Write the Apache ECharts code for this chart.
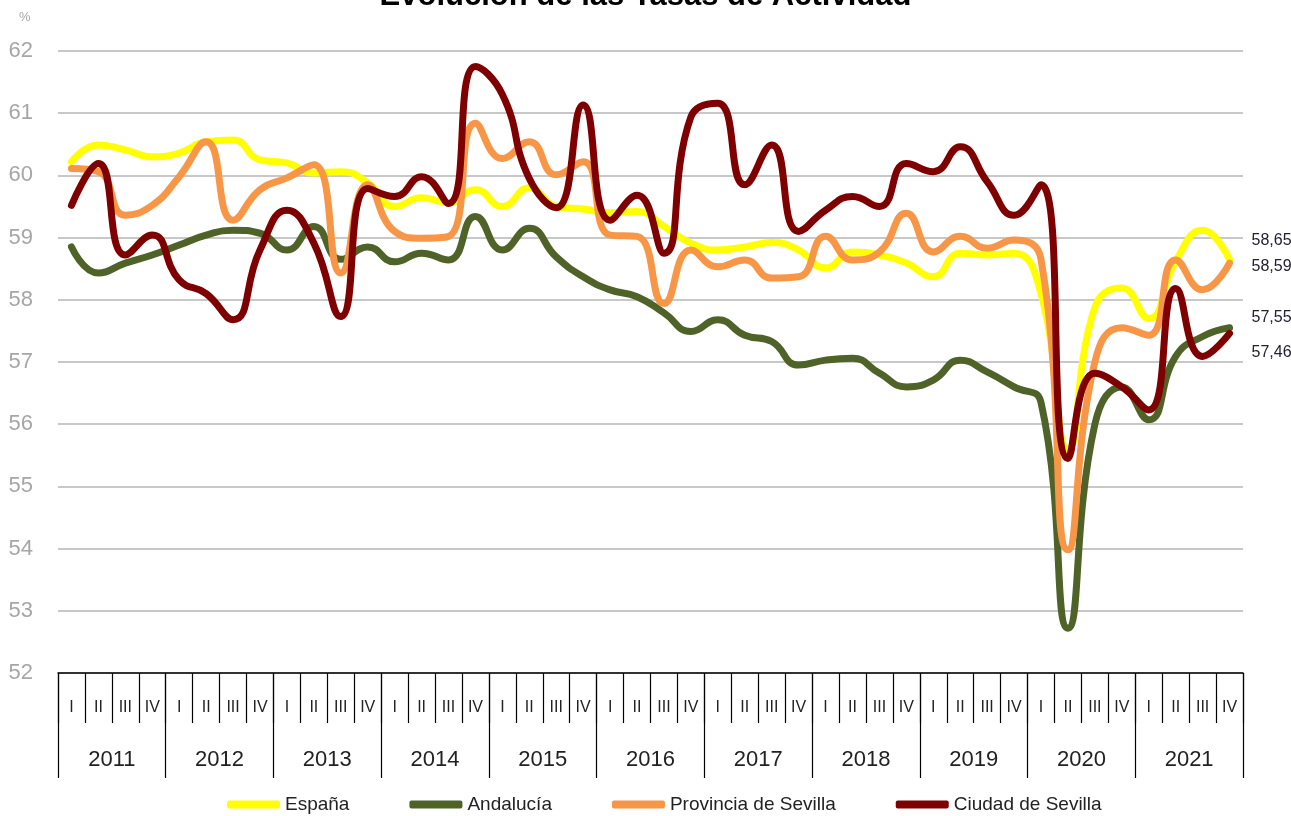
<!DOCTYPE html>
<html>
<head>
<meta charset="utf-8">
<script src="https://cdn.jsdelivr.net/npm/echarts@6/dist/echarts.min.js"></script>
<style>
  html, body { margin: 0; padding: 0; background: #fff; }
  #chart { width: 1291px; height: 816px; }
</style>
</head>
<body>
<div id="chart"></div>
<script>
// 年份与季度
const years = ['2011', '2012', '2013', '2014', '2015', '2016', '2017', '2018', '2019', '2020', '2021'];
const quarterNames = ['I', 'II', 'III', 'IV'];

// 各系列数据（%）
const espana = [60.22, 60.49, 60.41, 60.30, 60.36, 60.54, 60.57, 60.25, 60.20, 60.04, 60.06, 59.88,
    59.50, 59.64, 59.56, 59.77, 59.50, 59.80, 59.50, 59.46, 59.40, 59.42, 59.18, 58.91,
    58.80, 58.85, 58.92, 58.80, 58.51, 58.77, 58.72, 58.59, 58.37, 58.75, 58.72, 58.75,
    58.10, 55.60, 57.88, 58.19, 57.70, 58.62, 59.12, 58.65];
const andalucia = [58.85, 58.43, 58.59, 58.72, 58.88, 59.04, 59.12, 59.07, 58.80, 59.18, 58.65, 58.85,
    58.61, 58.75, 58.64, 59.34, 58.80, 59.15, 58.69, 58.37, 58.16, 58.05, 57.79, 57.49,
    57.68, 57.43, 57.33, 56.95, 57.03, 57.06, 56.82, 56.60, 56.71, 57.03, 56.84, 56.60,
    56.35, 52.72, 56.00, 56.60, 56.07, 57.09, 57.41, 57.55];
const provincia = [60.11, 60.06, 59.36, 59.52, 59.98, 60.54, 59.28, 59.77, 59.96, 60.17, 58.43, 59.85,
    59.10, 58.99, 59.02, 60.84, 60.27, 60.54, 60.01, 60.22, 59.04, 59.02, 57.94, 58.80,
    58.53, 58.64, 58.35, 58.37, 59.02, 58.64, 58.77, 59.39, 58.77, 59.02, 58.83, 58.96,
    58.65, 53.98, 57.00, 57.55, 57.43, 58.64, 58.16, 58.59];
const ciudad = [59.52, 60.19, 58.72, 59.04, 58.32, 58.10, 57.68, 58.80, 59.44, 58.91, 57.73, 59.79,
    59.66, 59.98, 59.55, 61.75, 61.30, 59.95, 59.48, 61.13, 59.28, 59.68, 58.75, 60.94,
    61.16, 59.85, 60.49, 59.10, 59.44, 59.66, 59.50, 60.19, 60.06, 60.46, 59.90, 59.36,
    59.85, 55.45, 56.82, 56.60, 56.23, 58.18, 57.09, 57.46];

// 季度标签（每年 I-IV）
const quarters = [];
years.forEach(() => quarterNames.forEach(q => quarters.push(q)));

const font = 'Liberation Sans';
var myChart = echarts.init(document.getElementById('chart'));

function lineSeries(name, data, color, offsetY) {
    return {
        name: name,
        type: 'line',
        data: data,
        smooth: 0.5,
        symbol: 'none',
        lineStyle: { width: 7, color: color, cap: 'round', join: 'round' },
        itemStyle: { color: color },
        endLabel: {
            show: true,
            distance: 22,
            offset: [0, offsetY],
            formatter: p => p.value.toFixed(2).replace('.', ','),
            fontFamily: font,
            fontSize: 16,
            color: '#222233'
        }
    };
}

var option = {
    animation: false,
    title: {
        text: 'Evolución de las Tasas de Actividad',
        left: 'center',
        top: -24,
        textStyle: { fontFamily: font, fontSize: 31, fontWeight: 'bold', color: '#000' }
    },
    graphic: [{
        type: 'text',
        left: 19,
        top: 11,
        style: { text: '%', fontFamily: font, fontSize: 13, fill: '#a6a6a6' }
    }],
    legend: {
        left: 222,
        top: 790,
        itemWidth: 53,
        itemHeight: 8,
        itemGap: 60,
        icon: 'roundRect',
        textStyle: { fontFamily: font, fontSize: 19, color: '#222' },
        data: ['España', 'Andalucía', 'Provincia de Sevilla', 'Ciudad de Sevilla']
    },
    grid: { left: 58, right: 48, top: 51, bottom: 143, containLabel: false },
    xAxis: [
        {
            type: 'category',
            data: quarters,
            position: 'bottom',
            axisLine: { lineStyle: { color: '#000', width: 1.5 } },
            axisTick: { show: true, length: 50, interval: 0, lineStyle: { color: '#000', width: 1.2 } },
            axisLabel: { interval: 0, margin: 27, fontFamily: font, fontSize: 16, color: '#222' },
            splitLine: { show: false }
        },
        {
            type: 'category',
            data: years,
            position: 'bottom',
            axisLine: { show: false },
            axisTick: { show: true, length: 105, interval: 0, lineStyle: { color: '#000', width: 1.2 } },
            axisLabel: { interval: 0, margin: 76, fontFamily: font, fontSize: 22, color: '#222' },
            splitLine: { show: false }
        }
    ],
    yAxis: {
        type: 'value',
        min: 52,
        max: 62,
        interval: 1,
        axisLine: { show: false },
        axisTick: { show: false },
        axisLabel: { margin: 25, fontFamily: font, fontSize: 22, color: '#a6a6a6' },
        splitLine: { lineStyle: { color: '#c8c8c8', width: 2 } }
    },
    series: [
        lineSeries('España', espana, '#ffff00', -19),
        lineSeries('Andalucía', andalucia, '#4f6228', -10),
        lineSeries('Provincia de Sevilla', provincia, '#f79646', 3),
        lineSeries('Ciudad de Sevilla', ciudad, '#7f0000', 19)
    ]
};

myChart.setOption(option);
</script>
</body>
</html>
